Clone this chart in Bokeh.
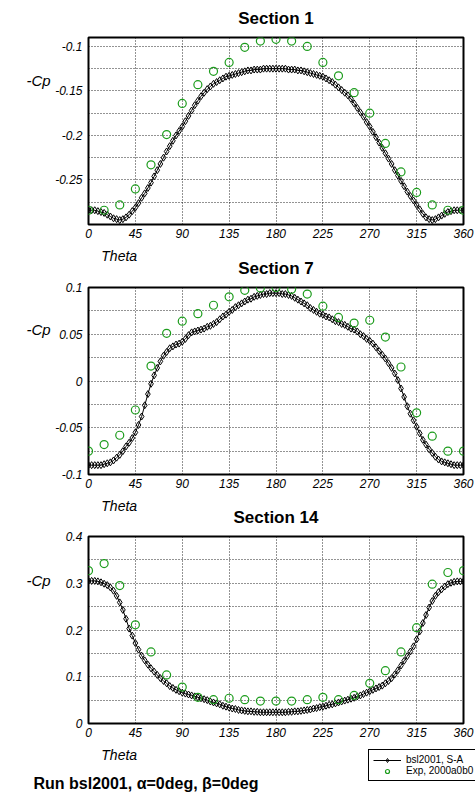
from bokeh.plotting import figure
from bokeh.layouts import column, row
from bokeh.models import (Range1d, FixedTicker, CustomJSTickFormatter,
                          Legend, LegendItem, ColumnDataSource)
from bokeh.core.properties import value
from bokeh.embed import file_html
from bokeh.resources import INLINE

# ---- data -----------------------------------------------------------------
theta_cfd = list(range(0, 361, 3))
theta_exp = list(range(0, 361, 15))
x_ticks = [0, 45, 90, 135, 180, 225, 270, 315, 360]

sec1_cfd = [
    -0.284, -0.284, -0.284, -0.285, -0.286, -0.287, -0.289, -0.291, -0.293, -0.294,
    -0.295, -0.294, -0.292, -0.289, -0.285, -0.281, -0.276, -0.270, -0.265, -0.259,
    -0.253, -0.246, -0.239, -0.232, -0.225, -0.218, -0.212, -0.206, -0.200, -0.195,
    -0.190, -0.184, -0.178, -0.172, -0.166, -0.161, -0.156, -0.152, -0.148, -0.145,
    -0.142, -0.140, -0.138, -0.136, -0.134, -0.133, -0.132, -0.131, -0.130, -0.129,
    -0.128, -0.127, -0.127, -0.126, -0.126, -0.126, -0.125, -0.125, -0.125, -0.125,
    -0.125,
    -0.125, -0.125, -0.125, -0.126, -0.126, -0.126, -0.127, -0.127, -0.128, -0.129,
    -0.130, -0.131, -0.132, -0.133, -0.134, -0.136, -0.138, -0.140, -0.143, -0.146,
    -0.149, -0.152, -0.155, -0.159, -0.164, -0.169, -0.174, -0.179, -0.185, -0.190,
    -0.196, -0.202, -0.208, -0.214, -0.220, -0.226, -0.232, -0.239, -0.245, -0.251,
    -0.257, -0.263, -0.268, -0.273, -0.278, -0.283, -0.288, -0.292, -0.294, -0.295,
    -0.294, -0.292, -0.290, -0.288, -0.286, -0.285, -0.284, -0.284, -0.284, -0.284,
]
sec1_exp = [
    -0.284, -0.284, -0.278, -0.260, -0.233, -0.199, -0.164, -0.143, -0.128, -0.118,
    -0.101, -0.094, -0.092, -0.094, -0.100, -0.118, -0.133, -0.152, -0.175, -0.209,
    -0.241, -0.264, -0.278, -0.284, -0.284,
]

sec7_cfd = [
    -0.090, -0.090, -0.090, -0.090, -0.090, -0.089, -0.088, -0.087, -0.085, -0.082,
    -0.079, -0.075, -0.070, -0.066, -0.061, -0.055, -0.047, -0.038, -0.026, -0.014,
    -0.003, 0.006, 0.014, 0.021, 0.027, 0.031, 0.035, 0.037, 0.039, 0.040,
    0.042, 0.045, 0.049, 0.052, 0.053, 0.054, 0.055, 0.056, 0.058, 0.059,
    0.061, 0.063, 0.066, 0.069, 0.071, 0.074, 0.076, 0.079, 0.081, 0.083,
    0.085, 0.087, 0.088, 0.090, 0.091, 0.092, 0.093, 0.093, 0.094, 0.094,
    0.094,
    0.094, 0.093, 0.093, 0.092, 0.091, 0.089, 0.087, 0.085, 0.083, 0.081,
    0.078, 0.076, 0.074, 0.072, 0.071, 0.069, 0.068, 0.066, 0.064, 0.063,
    0.061, 0.060, 0.058, 0.056, 0.055, 0.053, 0.050, 0.048, 0.045, 0.043,
    0.040, 0.036, 0.032, 0.028, 0.024, 0.019, 0.014, 0.008, 0.001, -0.008,
    -0.017, -0.027, -0.035, -0.042, -0.049, -0.056, -0.063, -0.068, -0.073, -0.077,
    -0.081, -0.084, -0.086, -0.087, -0.088, -0.089, -0.090, -0.090, -0.090, -0.090,
]
sec7_exp = [
    -0.075, -0.068, -0.058, -0.031, 0.016, 0.051, 0.064, 0.072, 0.081, 0.090,
    0.097, 0.0995, 0.100, 0.098, 0.093, 0.080, 0.068, 0.062, 0.065, 0.047,
    0.015, -0.034, -0.059, -0.075, -0.075,
]

sec14_cfd = [
    0.305, 0.305, 0.305, 0.304, 0.302, 0.299, 0.296, 0.291, 0.284, 0.273,
    0.259, 0.243, 0.224, 0.203, 0.188, 0.172, 0.158, 0.145, 0.135, 0.126,
    0.118, 0.111, 0.104, 0.097, 0.091, 0.086, 0.080, 0.076, 0.072, 0.069,
    0.066, 0.064, 0.062, 0.060, 0.058, 0.056, 0.054, 0.052, 0.050, 0.047,
    0.045, 0.043, 0.041, 0.038, 0.036, 0.034, 0.032, 0.031, 0.029, 0.028,
    0.027, 0.026, 0.026, 0.025, 0.025, 0.024, 0.024, 0.024, 0.024, 0.024,
    0.024,
    0.024, 0.024, 0.024, 0.025, 0.025, 0.026, 0.026, 0.027, 0.028, 0.029,
    0.030, 0.032, 0.033, 0.035, 0.036, 0.038, 0.040, 0.041, 0.043, 0.045,
    0.047, 0.049, 0.051, 0.053, 0.055, 0.058, 0.060, 0.063, 0.066, 0.069,
    0.072, 0.075, 0.078, 0.081, 0.086, 0.091, 0.097, 0.105, 0.114, 0.124,
    0.134, 0.144, 0.154, 0.165, 0.180, 0.197, 0.215, 0.232, 0.248, 0.262,
    0.273, 0.281, 0.287, 0.293, 0.298, 0.301, 0.303, 0.304, 0.304, 0.304,
]
sec14_exp = [
    0.327, 0.342, 0.295, 0.211, 0.153, 0.104, 0.078, 0.056, 0.051, 0.054,
    0.051, 0.048, 0.048, 0.048, 0.051, 0.056, 0.051, 0.060, 0.086, 0.113,
    0.153, 0.205, 0.298, 0.323, 0.327,
]

FONT = "Liberation Sans"
GREEN = "#1c9c1c"
W = 475
CP_W = 52          # strip holding the "-Cp" label, left of each panel
FRAME_W, FRAME_H = 375, 187


def strip(width, height):
    """A blank figure whose frame spans the whole canvas; used for free text."""
    s = figure(width=width, height=height,
               x_range=Range1d(0, width), y_range=Range1d(height, 0),
               output_backend="svg", toolbar_location=None,
               x_axis_location=None, y_axis_location=None,
               min_border=0, outline_line_color=None)
    s.xgrid.visible = False
    s.ygrid.visible = False
    s.background_fill_color = "white"
    s.border_fill_color = "white"
    return s


def put_text(s, x, y, txt, size, style, align="center"):
    s.text(x=[x], y=[y], text=[txt], text_font=value(FONT),
           text_font_size=value(size), text_font_style=style,
           text_align=align, text_baseline="middle", text_color="black")


def make_panel(cfd, exp, y_lo, y_hi, y_major, y_minor, border_top):
    p = figure(width=W - CP_W, height=border_top + FRAME_H + 20,
               x_range=Range1d(0, 360), y_range=Range1d(y_lo, y_hi),
               output_backend="svg", toolbar_location=None,
               min_border_left=88 - CP_W, min_border_right=12,
               min_border_top=border_top, min_border_bottom=20)
    p.outline_line_color = "black"
    p.outline_line_width = 2
    p.background_fill_color = "white"
    p.border_fill_color = "white"

    p.xaxis.ticker = FixedTicker(ticks=x_ticks)
    p.yaxis.ticker = FixedTicker(ticks=y_major, minor_ticks=y_minor)
    for ax in (p.xaxis[0], p.yaxis[0]):
        ax.formatter = CustomJSTickFormatter(code="return String(tick);")
        ax.axis_line_color = None
        ax.major_tick_line_color = None
        ax.minor_tick_line_color = None
        ax.major_tick_out = 0
        ax.minor_tick_out = 0
        ax.major_label_text_font = FONT
        ax.major_label_text_font_style = "italic"
        ax.major_label_text_font_size = "12px"
        ax.major_label_text_color = "black"
    p.xaxis.major_label_standoff = 4
    p.yaxis.major_label_standoff = 6

    for g in (p.xgrid[0], p.ygrid[0]):
        g.grid_line_color = "black"
        g.grid_line_dash = "1 2"
        g.grid_line_width = 1
        g.grid_line_alpha = 0.85
    p.ygrid.minor_grid_line_color = "black"
    p.ygrid.minor_grid_line_dash = "1 2"
    p.ygrid.minor_grid_line_alpha = 0.85

    p.line(theta_cfd, cfd, line_color="black", line_width=1)
    p.scatter(theta_cfd, cfd, marker="diamond", size=7,
              fill_color=None, line_color="black", line_width=1)
    p.scatter(theta_exp, exp, marker="circle", size=8,
              fill_color=None, line_color=GREEN, line_width=1.2)
    return p


def cp_strip(height, y):
    s = strip(CP_W, height)
    put_text(s, 38, y, "-Cp", "15px", "italic")
    return s


# ---- Section 1 ------------------------------------------------------------
t1 = strip(W, 33)
put_text(t1, 275.5, 17.5, "Section 1", "17px", "bold")
p1 = make_panel(sec1_cfd, sec1_exp, -0.3, -0.09,
                [-0.25, -0.2, -0.15, -0.1], [-0.275, -0.225, -0.175, -0.125], 4)
r1 = row(cp_strip(p1.height, 49), p1, spacing=0)

# ---- Section 7 ------------------------------------------------------------
t2 = strip(W, 38)
put_text(t2, 118.7, 11, "Theta", "14px", "italic")
put_text(t2, 275.5, 23.5, "Section 7", "17px", "bold")
p2 = make_panel(sec7_cfd, sec7_exp, -0.1, 0.1,
                [-0.1, -0.05, 0, 0.05, 0.1], [-0.075, -0.025, 0.025, 0.075], 5)
r2 = row(cp_strip(p2.height, 48), p2, spacing=0)

# ---- Section 14 -----------------------------------------------------------
t3 = strip(W, 37)
put_text(t3, 118.7, 11.5, "Theta", "14px", "italic")
put_text(t3, 275.5, 22.5, "Section 14", "17px", "bold")
p3 = make_panel(sec14_cfd, sec14_exp, 0, 0.4,
                [0, 0.1, 0.2, 0.3, 0.4], [0.05, 0.15, 0.25, 0.35], 5)
r3 = row(cp_strip(p3.height, 49.5), p3, spacing=0)

# ---- footer: axis name, legend and run caption ----------------------------
t4 = strip(W, 60)
put_text(t4, 118.7, 11, "Theta", "14px", "italic")
put_text(t4, 33, 40, "Run bsl2001, \u03b1=0deg, \u03b2=0deg", "16px", "bold",
         align="left")

# legend swatches: renderers with a single NaN point, so nothing shows on canvas
swatch = ColumnDataSource(data=dict(x=[float("nan")], y=[float("nan")]))
leg_line = t4.line("x", "y", source=swatch, line_color="black", line_width=1)
leg_mark = t4.scatter("x", "y", source=swatch, marker="diamond", size=6,
                      fill_color=None, line_color="black", line_width=1)
leg_exp = t4.scatter("x", "y", source=swatch, marker="circle", size=7,
                     fill_color=None, line_color=GREEN, line_width=1.2)
legend = Legend(items=[LegendItem(label="bsl2001, S-A", renderers=[leg_line, leg_mark]),
                       LegendItem(label="Exp, 2000a0b0", renderers=[leg_exp])],
                location=(368, 22))
legend.border_line_color = "black"
legend.border_line_alpha = 1
legend.border_line_width = 1
legend.background_fill_color = "white"
legend.background_fill_alpha = 1
legend.padding = 4
legend.spacing = 0
legend.margin = 0
legend.label_height = 10
legend.glyph_height = 10
legend.glyph_width = 28
legend.label_standoff = 5
legend.label_text_font = FONT
legend.label_text_font_size = "10px"
legend.label_text_color = "black"
t4.add_layout(legend)

layout = column(t1, r1, t2, r2, t3, r3, t4, spacing=0)
open("out.html", "w").write(file_html(layout, INLINE))
